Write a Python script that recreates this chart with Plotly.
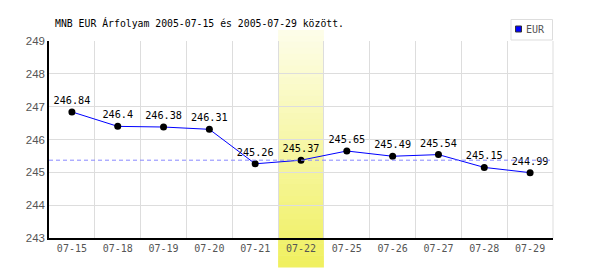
import plotly.graph_objects as go

# ---- data ----
dates = ["07-15", "07-18", "07-19", "07-20", "07-21", "07-22",
         "07-25", "07-26", "07-27", "07-28", "07-29"]
eur_rate = [246.84, 246.4, 246.38, 246.31, 245.26, 245.37,
            245.65, 245.49, 245.54, 245.15, 244.99]
highlight_date = "07-22"
reference_rate = 245.37
y_ticks = [243, 244, 245, 246, 247, 248, 249]
series_name = "EUR"
title_text = "MNB EUR Árfolyam 2005-07-15 és 2005-07-29 között."

# ---- layout geometry (pixels) ----
W, H = 600, 270
L, R, T, B = 49, 47, 41, 32
PW, PH = W - L - R, H - T - B


def px(x):
    return (x - L) / PW


def py(y):
    return (H - B - y) / PH


MONO = "DejaVu Sans Mono"
GRAY = "#555555"

fig = go.Figure()

fig.add_trace(go.Scatter(
    x=dates, y=eur_rate, mode="lines+markers+text",
    text=[str(v) for v in eur_rate], textposition="top center",
    textfont=dict(family=MONO, size=10.2, color="#000000"),
    line=dict(color="#0000ff", width=1),
    marker=dict(color="#000000", size=7),
    showlegend=False, cliponaxis=False,
))

shapes = []
# highlight band with vertical gradient
hi = dates.index(highlight_date)
n = 40
y_top, y_bot = 30, 267
c0 = (253, 253, 232)
c1 = (240, 240, 96)
for i in range(n):
    f = i / (n - 1)
    col = tuple(round(c0[k] + (c1[k] - c0[k]) * f) for k in range(3))
    ya = y_top + (y_bot - y_top) * i / n
    yb = y_top + (y_bot - y_top) * (i + 1) / n + 0.5
    shapes.append(dict(
        type="rect", xref="x", yref="paper", layer="below",
        x0=hi - 0.5, x1=hi + 0.5, y0=py(yb), y1=py(ya),
        fillcolor="rgb(%d,%d,%d)" % col, line=dict(width=0),
    ))
# reference dashed line
shapes.append(dict(
    type="line", xref="paper", yref="y", x0=0, x1=1,
    y0=reference_rate, y1=reference_rate, layer="above",
    line=dict(color="#8888ff", width=1, dash="4px,3px"),
))
# legend box
shapes.append(dict(
    type="rect", xref="paper", yref="paper",
    x0=px(511), x1=px(552.5), y0=py(40), y1=py(19.5),
    line=dict(color="#dddddd", width=1), fillcolor="white",
))
shapes.append(dict(
    type="rect", xref="paper", yref="paper",
    x0=px(515.5), x1=px(521.5), y0=py(32), y1=py(26),
    line=dict(color="#333333", width=1), fillcolor="#0000ff",
))

annotations = [
    dict(text=title_text, xref="paper", yref="paper",
         x=px(53), y=py(23), xanchor="left", yanchor="middle",
         showarrow=False, font=dict(family=MONO, size=9.8, color="#000000")),
    dict(text=series_name, xref="paper", yref="paper",
         x=px(524), y=py(29.5), xanchor="left", yanchor="middle",
         showarrow=False, font=dict(family=MONO, size=10, color=GRAY)),
]

fig.update_layout(
    width=W, height=H,
    margin=dict(l=L, r=R, t=T, b=B),
    paper_bgcolor="white", plot_bgcolor="rgba(0,0,0,0)",
    shapes=shapes, annotations=annotations,
    showlegend=False,
)
fig.update_xaxes(
    type="category", range=[-0.5, len(dates) - 0.5],
    tickson="boundaries", showgrid=True, gridcolor="#dddddd", gridwidth=1,
    showline=True, linecolor="#000000", linewidth=1.5, ticks="",
    tickfont=dict(family=MONO, size=10, color=GRAY),
    mirror=False, zeroline=False,
)
fig.update_yaxes(
    range=[243, 249], tickvals=y_ticks, ticktext=[str(v) for v in y_ticks],
    showgrid=True, gridcolor="#dddddd", gridwidth=1,
    showline=True, linecolor="#000000", linewidth=1.5, ticks="",
    tickfont=dict(family="Liberation Sans", size=11.5, color=GRAY),
    zeroline=False,
)
# right border as gridline color
fig.add_shape(type="line", xref="paper", yref="paper", x0=1, x1=1, y0=0, y1=1,
              line=dict(color="#dddddd", width=1))

fig.write_html("out.html")
